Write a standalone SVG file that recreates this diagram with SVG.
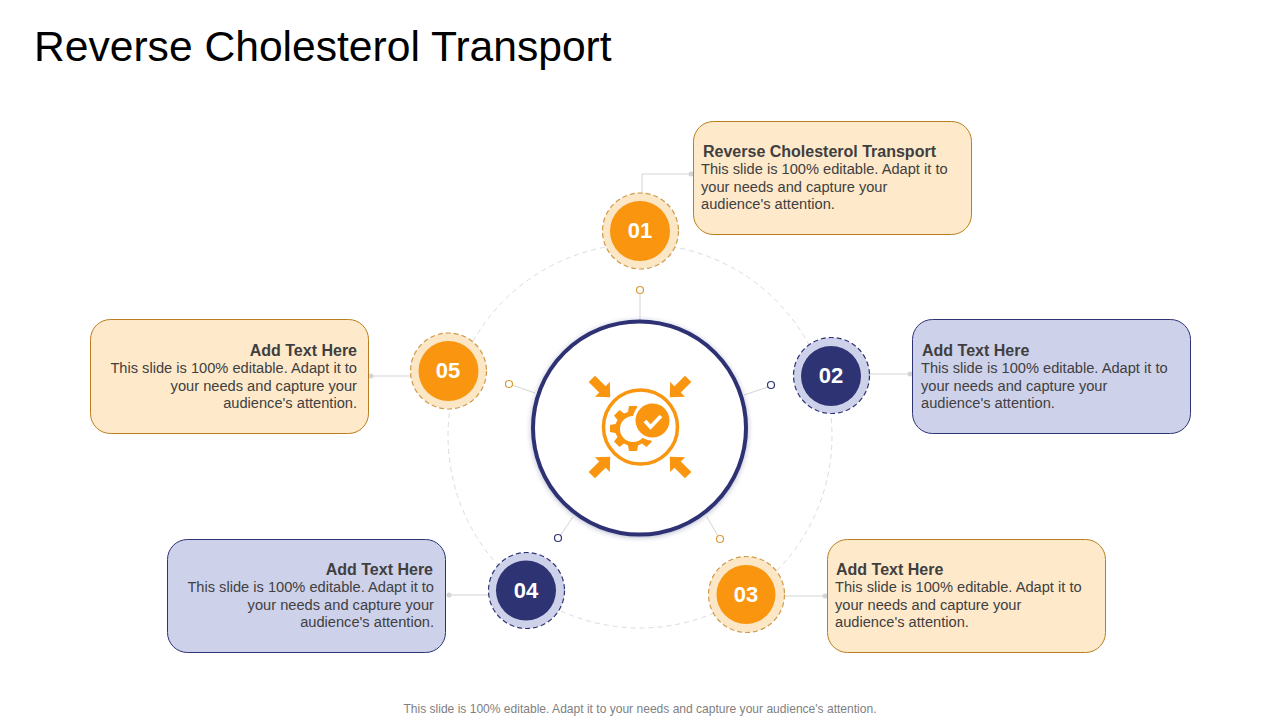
<svg xmlns="http://www.w3.org/2000/svg" width="1280" height="720" viewBox="0 0 1280 720">
<style>
text{font-family:"Liberation Sans",Arial,sans-serif}
.title{font-size:42.6px;fill:#000}
.h{font-size:16px;font-weight:700;fill:#3f3f3f}
.b{font-size:14.65px;fill:#404040}
.e{text-anchor:end}
.foot{font-size:12.05px;fill:#7f7f7f;text-anchor:middle}
.num{font-size:22px;font-weight:700;fill:#fff;text-anchor:middle}
.boxO{fill:#fee9cb;stroke:#b97f1e;stroke-width:1}
.boxB{fill:#ced1ea;stroke:#2e3374;stroke-width:1}
.hO{fill:#fbe6c6;stroke:#d09a48;stroke-width:1.2;stroke-dasharray:5 3}
.hB{fill:#ced1ea;stroke:#2e3374;stroke-width:1.2;stroke-dasharray:5 3}
.fO{fill:#f9950f}
.fB{fill:#2e3374}
.link{fill:none;stroke:#d4d4d4;stroke-width:1}
.dot{fill:#d4d4d4}
.pO{fill:#fff;stroke:#d99a3a;stroke-width:1.2}
.pB{fill:#fff;stroke:#2e3374;stroke-width:1.2}
.icon{fill:#f9950f}
</style>
<defs>
<filter id="sh" x="-10%" y="-10%" width="120%" height="120%"><feDropShadow dx="0" dy="1" stdDeviation="2.5" flood-color="#2e3374" flood-opacity=".35"/></filter>
<path id="arr" d="M-4.500-13 4.500-13 4.500 2 10.500 2 0 13-10.500 2-4.500 2Z"/>
</defs>
<text class="title" x="34" y="61">Reverse Cholesterol Transport</text>
<g id="connectors">
<circle cx="640" cy="436" r="192" fill="none" stroke="#dcdcdc" stroke-width="1" stroke-dasharray="5 4"/>
<path class="link" d="M642 194V174H691"/><circle class="dot" cx="691" cy="174" r="2.500"/>
<path class="link" d="M870 374H910"/><circle class="dot" cx="910" cy="374" r="2.500"/>
<path class="link" d="M785 596H825"/><circle class="dot" cx="825" cy="596" r="2.500"/>
<path class="link" d="M488 595H449"/><circle class="dot" cx="449" cy="595" r="2.500"/>
<path class="link" d="M410 376H371"/><circle class="dot" cx="371" cy="376" r="2.500"/>
<path class="link" d="M640 294V320M768 387 744 395M707 517 718 536M573 517 560 536M512 385 535 393"/>
<circle class="pO" cx="640" cy="290" r="3.500"/>
<circle class="pB" cx="771" cy="385" r="3.500"/>
<circle class="pO" cx="720" cy="539" r="3.500"/>
<circle class="pB" cx="558" cy="538" r="3.500"/>
<circle class="pO" cx="509" cy="384" r="3.500"/>
</g>
<g id="hub">
<circle cx="639.500" cy="428" r="106.500" fill="#fff" stroke="#2e3374" stroke-width="4" filter="url(#sh)"/>
<circle cx="640.500" cy="427" r="37" fill="none" stroke="#f9950f" stroke-width="3.500"/>
<g class="icon">
<use href="#arr" transform="translate(601 388) rotate(-45)"/>
<use href="#arr" transform="translate(679 388) rotate(45)"/>
<use href="#arr" transform="translate(601 466) rotate(-135)"/>
<use href="#arr" transform="translate(679 466) rotate(135)"/>
<g transform="translate(633 428)">
<path fill-rule="evenodd" d="M-4-22H4L5-16 9-14.500 14-18 19-12.500 15.500-8 17.500-4 23-3V4L17.500 5 15.500 9 19 13.500 13.500 19 9 15.500 5 17.500 4 23H-4L-5 17.500-9 15.500-13.500 19-19 13.500-15.500 9-17.500 5-23 4V-3L-17.500-4-15.500-8-19-12.500-13.500-18-9-14.500-5-16ZM0-12A13 13 0 1 0 0 14 13 13 0 1 0 0-12Z"/>
</g>
<circle cx="652.500" cy="420.500" r="20" fill="#fff"/>
<circle cx="652.500" cy="420.500" r="17"/>
<path d="M645 421 650.500 427 661 416" fill="none" stroke="#fff" stroke-width="3.800"/>
</g>
</g>
<g id="node-01">
<circle class="hO" cx="640.500" cy="231" r="38"/><circle class="fO" cx="640" cy="231" r="30"/>
<text class="num" x="640" y="238">01</text>
</g>
<g id="node-02">
<circle class="hB" cx="831.500" cy="375.500" r="38"/><circle class="fB" cx="831" cy="376" r="30"/>
<text class="num" x="831" y="383">02</text>
</g>
<g id="node-03">
<circle class="hO" cx="746.500" cy="594.500" r="38"/><circle class="fO" cx="746" cy="594.500" r="29.500"/>
<text class="num" x="746" y="602">03</text>
</g>
<g id="node-04">
<circle class="hB" cx="526.500" cy="590.500" r="38"/><circle class="fB" cx="526" cy="590.500" r="30"/>
<text class="num" x="526" y="598">04</text>
</g>
<g id="node-05">
<circle class="hO" cx="448.500" cy="371" r="38"/><circle class="fO" cx="448.500" cy="371" r="30"/>
<text class="num" x="448" y="378">05</text>
</g>
<g id="box-01">
<rect class="boxO" x="693.500" y="121.500" width="278" height="113" rx="20"/>
<text class="h" x="703" y="157">Reverse Cholesterol Transport</text>
<text class="b" x="701" y="174">This slide is 100% editable. Adapt it to</text>
<text class="b" x="701" y="192">your needs and capture your</text>
<text class="b" x="701" y="209">audience's attention.</text>
</g>
<g id="box-02">
<rect class="boxB" x="912.500" y="319.500" width="278" height="114" rx="20"/>
<text class="h" x="922" y="356">Add Text Here</text>
<text class="b" x="921" y="373">This slide is 100% editable. Adapt it to</text>
<text class="b" x="921" y="391">your needs and capture your</text>
<text class="b" x="921" y="408">audience's attention.</text>
</g>
<g id="box-03">
<rect class="boxO" x="827.500" y="539.500" width="278" height="113" rx="20"/>
<text class="h" x="836" y="575">Add Text Here</text>
<text class="b" x="835" y="592">This slide is 100% editable. Adapt it to</text>
<text class="b" x="835" y="610">your needs and capture your</text>
<text class="b" x="835" y="627">audience's attention.</text>
</g>
<g id="box-04">
<rect class="boxB" x="167.500" y="539.500" width="278" height="113" rx="20"/>
<text class="h e" x="433" y="575">Add Text Here</text>
<text class="b e" x="434" y="592">This slide is 100% editable. Adapt it to</text>
<text class="b e" x="434" y="610">your needs and capture your</text>
<text class="b e" x="434" y="627">audience's attention.</text>
</g>
<g id="box-05">
<rect class="boxO" x="90.500" y="319.500" width="278" height="114" rx="20"/>
<text class="h e" x="357" y="356">Add Text Here</text>
<text class="b e" x="357" y="373">This slide is 100% editable. Adapt it to</text>
<text class="b e" x="357" y="391">your needs and capture your</text>
<text class="b e" x="357" y="408">audience's attention.</text>
</g>
<text class="foot" x="640" y="713">This slide is 100% editable. Adapt it to your needs and capture your audience's attention.</text>
</svg>
